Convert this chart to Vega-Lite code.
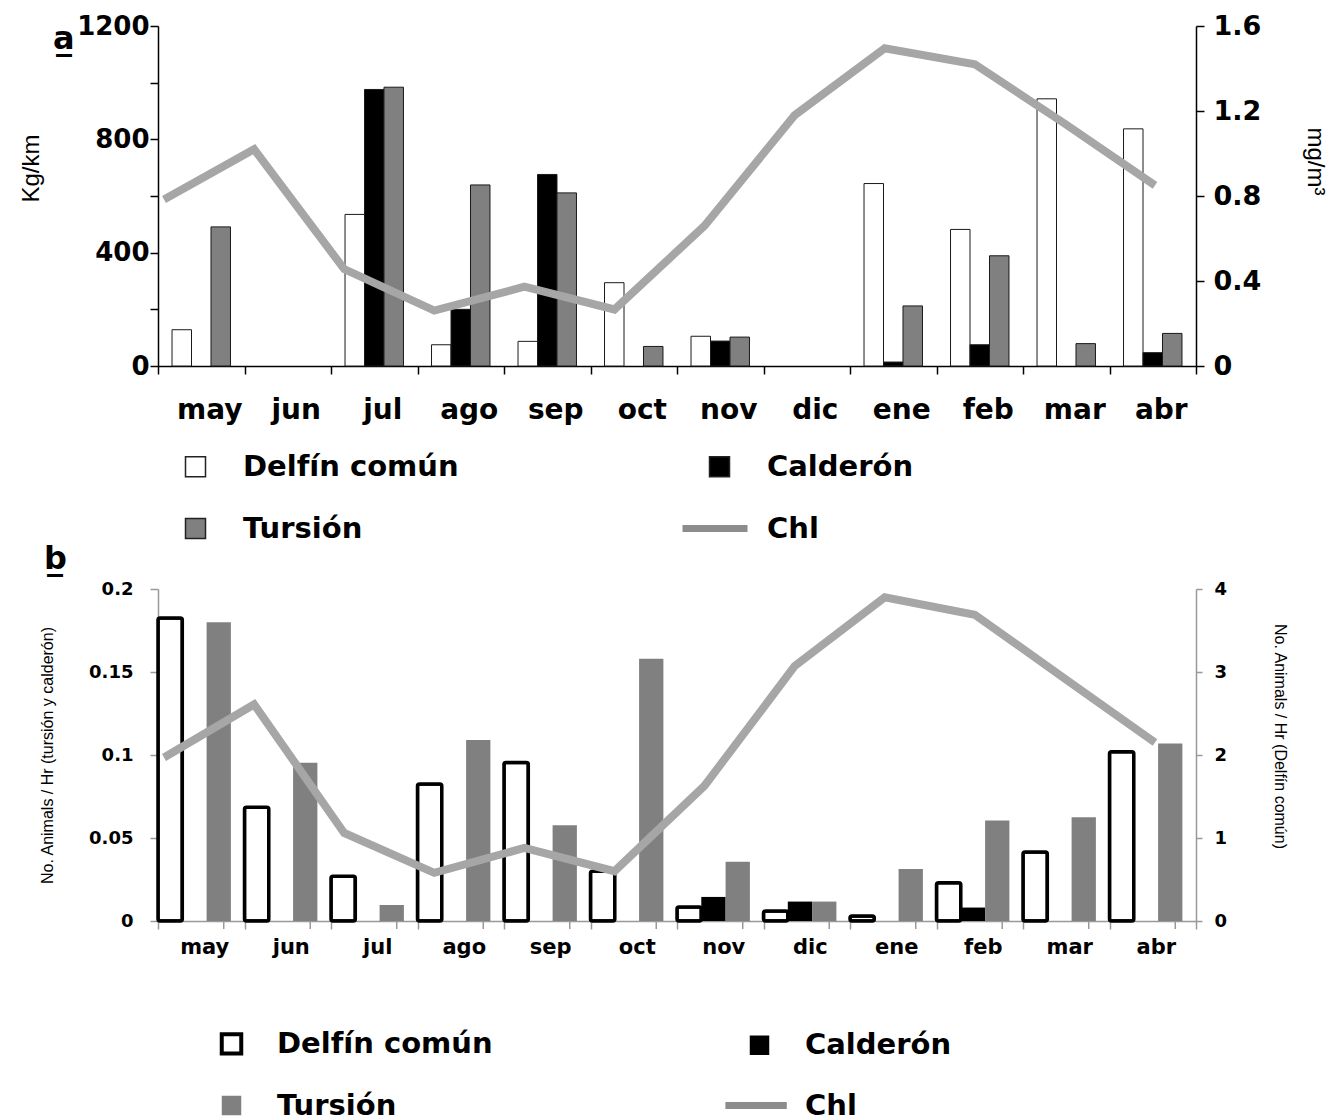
{
  "$schema": "https://vega.github.io/schema/vega-lite/v6.json",
  "padding": {"left": 19, "top": 12, "right": 5, "bottom": 0},
  "bounds": "flush",
  "spacing": 223,
  "config": {
    "view": {"stroke": null},
    "axis": {"grid": false, "labelColor": "#000", "titleColor": "#000"}
  },
  "resolve": {"scale": {"fill": "independent"}, "legend": {"fill": "independent"}},
  "datasets": {
    "a_bars": [
      {"month": "may", "species": "Delfín común", "value": 128},
      {"month": "may", "species": "Tursión", "value": 491},
      {"month": "jul", "species": "Delfín común", "value": 535},
      {"month": "jul", "species": "Calderón", "value": 976},
      {"month": "jul", "species": "Tursión", "value": 984},
      {"month": "ago", "species": "Delfín común", "value": 75},
      {"month": "ago", "species": "Calderón", "value": 200},
      {"month": "ago", "species": "Tursión", "value": 639},
      {"month": "sep", "species": "Delfín común", "value": 87},
      {"month": "sep", "species": "Calderón", "value": 676},
      {"month": "sep", "species": "Tursión", "value": 611},
      {"month": "oct", "species": "Delfín común", "value": 294},
      {"month": "oct", "species": "Tursión", "value": 69},
      {"month": "nov", "species": "Delfín común", "value": 105},
      {"month": "nov", "species": "Calderón", "value": 88},
      {"month": "nov", "species": "Tursión", "value": 102},
      {"month": "ene", "species": "Delfín común", "value": 644},
      {"month": "ene", "species": "Calderón", "value": 14},
      {"month": "ene", "species": "Tursión", "value": 212},
      {"month": "feb", "species": "Delfín común", "value": 482},
      {"month": "feb", "species": "Calderón", "value": 75},
      {"month": "feb", "species": "Tursión", "value": 389},
      {"month": "mar", "species": "Delfín común", "value": 943},
      {"month": "mar", "species": "Tursión", "value": 79},
      {"month": "abr", "species": "Delfín común", "value": 837},
      {"month": "abr", "species": "Calderón", "value": 47},
      {"month": "abr", "species": "Tursión", "value": 115}
    ],
    "a_chl": [
      {"month": "may", "chl": 0.784},
      {"month": "jun", "chl": 1.02},
      {"month": "jul", "chl": 0.456},
      {"month": "ago", "chl": 0.261},
      {"month": "sep", "chl": 0.373},
      {"month": "oct", "chl": 0.266},
      {"month": "nov", "chl": 0.66},
      {"month": "dic", "chl": 1.18},
      {"month": "ene", "chl": 1.495},
      {"month": "feb", "chl": 1.42},
      {"month": "mar", "chl": 1.14},
      {"month": "abr", "chl": 0.85}
    ],
    "b_left": [
      {"month": "may", "species": "Tursión", "value": 0.18},
      {"month": "jun", "species": "Tursión", "value": 0.0954},
      {"month": "jul", "species": "Tursión", "value": 0.0097},
      {"month": "ago", "species": "Tursión", "value": 0.109},
      {"month": "sep", "species": "Tursión", "value": 0.0577},
      {"month": "oct", "species": "Tursión", "value": 0.158},
      {"month": "nov", "species": "Calderón", "value": 0.0145},
      {"month": "nov", "species": "Tursión", "value": 0.0357},
      {"month": "dic", "species": "Calderón", "value": 0.0117},
      {"month": "dic", "species": "Tursión", "value": 0.0117},
      {"month": "ene", "species": "Tursión", "value": 0.0313},
      {"month": "feb", "species": "Calderón", "value": 0.0081},
      {"month": "feb", "species": "Tursión", "value": 0.0605},
      {"month": "mar", "species": "Tursión", "value": 0.0625},
      {"month": "abr", "species": "Tursión", "value": 0.107}
    ],
    "b_white": [
      {"month": "may", "species": "Delfín común", "value": 3.65},
      {"month": "jun", "species": "Delfín común", "value": 1.37},
      {"month": "jul", "species": "Delfín común", "value": 0.54},
      {"month": "ago", "species": "Delfín común", "value": 1.65},
      {"month": "sep", "species": "Delfín común", "value": 1.91},
      {"month": "oct", "species": "Delfín común", "value": 0.6},
      {"month": "nov", "species": "Delfín común", "value": 0.17},
      {"month": "dic", "species": "Delfín común", "value": 0.12},
      {"month": "ene", "species": "Delfín común", "value": 0.06},
      {"month": "feb", "species": "Delfín común", "value": 0.46},
      {"month": "mar", "species": "Delfín común", "value": 0.83},
      {"month": "abr", "species": "Delfín común", "value": 2.04}
    ],
    "b_chl": [
      {"month": "may", "chl": 1.97},
      {"month": "jun", "chl": 2.61},
      {"month": "jul", "chl": 1.06},
      {"month": "ago", "chl": 0.58},
      {"month": "sep", "chl": 0.88},
      {"month": "oct", "chl": 0.6},
      {"month": "nov", "chl": 1.63},
      {"month": "dic", "chl": 3.07},
      {"month": "ene", "chl": 3.9},
      {"month": "feb", "chl": 3.69},
      {"month": "mar", "chl": 2.92},
      {"month": "abr", "chl": 2.15}
    ],
    "months": [
      {"month": "may"}, {"month": "jun"}, {"month": "jul"}, {"month": "ago"},
      {"month": "sep"}, {"month": "oct"}, {"month": "nov"}, {"month": "dic"},
      {"month": "ene"}, {"month": "feb"}, {"month": "mar"}, {"month": "abr"}
    ]
  },
  "vconcat": [
    {
      "width": 1038,
      "height": 340,
      "title": {"text": "a\u0332", "anchor": "start", "frame": "group", "font": "DejaVu Sans", "fontSize": 32, "fontWeight": "bold", "color": "#000", "dx": -105, "dy": 44, "offset": 0},
      "layer": [
        {
          "data": {"name": "a_bars"},
          "mark": {"type": "bar", "stroke": "#1a1a1a", "strokeWidth": 1},
          "encoding": {
            "x": {
              "field": "month", "type": "nominal", "sort": null,
              "scale": {"type": "band", "domain": ["may","jun","jul","ago","sep","oct","nov","dic","ene","feb","mar","abr"], "paddingInner": 0, "paddingOuter": 0},
              "axis": {"title": null, "tickBand": "extent", "labelAngle": 0, "labelFont": "DejaVu Sans", "labelFontWeight": "bold", "labelFontSize": 28, "domainColor": "#000", "domainWidth": 1.5, "tickColor": "#000", "tickWidth": 1.5, "tickSize": 8, "labelPadding": 44, "labelBaseline": "alphabetic", "labelOffset": 8}
            },
            "xOffset": {"field": "species", "type": "nominal", "scale": {"domain": ["Delfín común", "Calderón", "Tursión"], "paddingInner": 0, "paddingOuter": 0.72}},
            "y": {
              "field": "value", "type": "quantitative",
              "scale": {"domain": [0, 1200]},
              "axis": {"title": "Kg/km", "titleFont": "Liberation Sans", "titleFontSize": 24, "titleFontWeight": "normal", "titlePadding": 33, "titleY": 142, "values": [0, 200, 400, 600, 800, 1000, 1200], "format": "d", "labelExpr": "datum.value % 400 === 0 ? datum.label : ''", "labelFont": "DejaVu Sans", "labelFontWeight": "bold", "labelFontSize": 26, "labelPadding": 1, "domainColor": "#000", "domainWidth": 1.5, "tickColor": "#000", "tickWidth": 1.5, "tickSize": 8}
            },
            "fill": {
              "field": "species", "type": "nominal",
              "scale": {"domain": ["Delfín común", "Tursión", "Calderón", "Chl"], "range": ["#ffffff", "#808080", "#000000", "#8c8c8c"]},
              "legend": {
                "title": null, "orient": "none", "legendX": 23, "legendY": 426, "columns": 2, "padding": 0,
                "symbolType": "square", "symbolSize": 400, "symbolStrokeColor": "#000", "symbolStrokeWidth": 1.5,
                "labelFont": "DejaVu Sans", "labelFontWeight": "bold", "labelFontSize": 29, "labelColor": "#000", "labelOffset": 33, "labelLimit": 400,
                "rowPadding": 32, "columnPadding": 223, "gridAlign": "all",
                "encode": {"symbols": {"update": {
                  "shape": {"signal": "datum.label === 'Chl' ? 'M-3.7,-0.35H2.8V0.35H-3.7Z' : 'square'"},
                  "strokeWidth": {"signal": "datum.label === 'Chl' ? 0 : 1.5"},
                  "stroke": {"value": "#222"}
                }}}
              }
            }
          }
        },
        {
          "data": {"name": "a_chl"},
          "mark": {"type": "line", "color": "#a6a6a6", "strokeWidth": 8},
          "encoding": {
            "x": {"field": "month", "type": "ordinal", "sort": null, "scale": {"type": "point", "domain": ["may","jun","jul","ago","sep","oct","nov","dic","ene","feb","mar","abr"], "padding": 0.261, "align": 0.128}, "axis": null},
            "y": {
              "field": "chl", "type": "quantitative",
              "scale": {"domain": [0, 1.6]},
              "axis": {"orient": "right", "title": "mg/m³", "titleFont": "Liberation Sans", "titleFontSize": 24, "titleFontWeight": "normal", "titlePadding": 42, "titleY": 135, "values": [0, 0.4, 0.8, 1.2, 1.6], "format": "~g", "labelFont": "DejaVu Sans", "labelFontWeight": "bold", "labelFontSize": 27, "labelPadding": 9, "domainColor": "#000", "domainWidth": 1.5, "tickColor": "#000", "tickWidth": 1.5, "tickSize": 8}
            }
          }
        }
      ],
      "resolve": {"scale": {"x": "independent", "y": "independent"}, "axis": {"x": "independent", "y": "independent"}}
    },
    {
      "width": 1038,
      "height": 332,
      "title": {"text": "b\u0332", "anchor": "start", "frame": "group", "font": "DejaVu Sans", "fontSize": 32, "fontWeight": "bold", "color": "#000", "dx": -114, "dy": 0, "offset": 4},
      "layer": [
        {
          "data": {"name": "b_left"},
          "mark": {"type": "bar"},
          "encoding": {
            "x": {
              "field": "month", "type": "nominal", "sort": null,
              "scale": {"type": "band", "domain": ["may","jun","jul","ago","sep","oct","nov","dic","ene","feb","mar","abr"], "paddingInner": 0, "paddingOuter": 0},
              "axis": {"title": null, "tickBand": "extent", "labelAngle": 0, "labelFont": "DejaVu Sans", "labelFontWeight": "bold", "labelFontSize": 21, "domainColor": "#999", "domainWidth": 1.5, "tickColor": "#999", "tickWidth": 1.5, "tickSize": 8, "labelPadding": 24, "labelBaseline": "alphabetic", "labelOffset": 3}
            },
            "xOffset": {"field": "species", "type": "nominal", "scale": {"domain": ["Delfín común", "Calderón", "Tursión"], "paddingInner": 0, "paddingOuter": 0.28, "align": 0}},
            "y": {
              "field": "value", "type": "quantitative",
              "scale": {"domain": [0, 0.2]},
              "axis": {"title": "No. Animals / Hr (tursión y calderón)", "titleFont": "Liberation Sans", "titleFontSize": 16, "titleFontWeight": "normal", "titlePadding": 33, "values": [0, 0.05, 0.1, 0.15, 0.2], "format": "~g", "labelFont": "DejaVu Sans", "labelFontWeight": "bold", "labelFontSize": 18, "labelPadding": 17, "domainColor": "#999", "domainWidth": 1.5, "tickColor": "#999", "tickWidth": 1.5, "tickSize": 8}
            },
            "fill": {
              "field": "species", "type": "nominal",
              "scale": {"domain": ["Delfín común", "Tursión", "Calderón", "Chl"], "range": ["#ffffff", "#808080", "#000000", "#8c8c8c"]},
              "legend": {
                "title": null, "orient": "none", "legendX": 59, "legendY": 440, "columns": 2, "padding": 0,
                "symbolType": "square", "symbolSize": 380, "symbolStrokeColor": "#000", "symbolStrokeWidth": 3.5,
                "labelFont": "DejaVu Sans", "labelFontWeight": "bold", "labelFontSize": 29, "labelColor": "#000", "labelOffset": 31, "labelLimit": 400,
                "rowPadding": 29, "columnPadding": 232, "gridAlign": "all",
                "encode": {"symbols": {"update": {
                  "shape": {"signal": "datum.label === 'Chl' ? 'M-3.5,-0.35H2.8V0.35H-3.5Z' : 'square'"},
                  "strokeWidth": {"signal": "datum.label === 'Delfín común' ? 4 : 0"},
                  "stroke": {"value": "#000"}
                }}}
              }
            }
          }
        },
        {
          "data": {"name": "b_white"},
          "mark": {"type": "bar", "fill": "#ffffff", "stroke": "#000", "strokeWidth": 3.5, "cornerRadius": 2},
          "encoding": {
            "x": {"field": "month", "type": "nominal", "sort": null, "scale": {"type": "band", "domain": ["may","jun","jul","ago","sep","oct","nov","dic","ene","feb","mar","abr"], "paddingInner": 0, "paddingOuter": 0}, "axis": null},
            "xOffset": {"field": "species", "type": "nominal", "scale": {"domain": ["Delfín común", "Calderón", "Tursión"], "paddingInner": 0, "paddingOuter": 0.28, "align": 0}},
            "y": {
              "field": "value", "type": "quantitative",
              "scale": {"domain": [0, 4]},
              "axis": {"orient": "right", "title": "No. Animals / Hr (Delfín común)", "titleFont": "Liberation Sans", "titleFontSize": 16, "titleFontWeight": "normal", "titlePadding": 45, "titleY": 147, "values": [0, 1, 2, 3, 4], "labelFont": "DejaVu Sans", "labelFontWeight": "bold", "labelFontSize": 18, "labelPadding": 12, "domainColor": "#999", "domainWidth": 1.5, "tickColor": "#999", "tickWidth": 1.5, "tickSize": 6}
            }
          }
        },
        {
          "data": {"name": "months"},
          "mark": {"type": "rule", "color": "#999", "strokeWidth": 1.5},
          "encoding": {
            "x": {"field": "month", "type": "nominal", "sort": null, "bandPosition": 0.76, "scale": {"type": "band", "domain": ["may","jun","jul","ago","sep","oct","nov","dic","ene","feb","mar","abr"], "paddingInner": 0, "paddingOuter": 0}, "axis": null},
            "y": {"datum": 0, "type": "quantitative", "scale": {"domain": [0, 0.2]}, "axis": null},
            "y2": {"datum": -0.0048}
          }
        },
        {
          "data": {"name": "b_chl"},
          "mark": {"type": "line", "color": "#a6a6a6", "strokeWidth": 8},
          "encoding": {
            "x": {"field": "month", "type": "ordinal", "sort": null, "scale": {"type": "point", "domain": ["may","jun","jul","ago","sep","oct","nov","dic","ene","feb","mar","abr"], "padding": 0.261, "align": 0.128}, "axis": null},
            "y": {"field": "chl", "type": "quantitative", "scale": {"domain": [0, 4]}, "axis": null}
          }
        }
      ],
      "resolve": {"scale": {"x": "independent", "y": "independent", "xOffset": "independent"}, "axis": {"x": "independent", "y": "independent"}}
    }
  ]
}
